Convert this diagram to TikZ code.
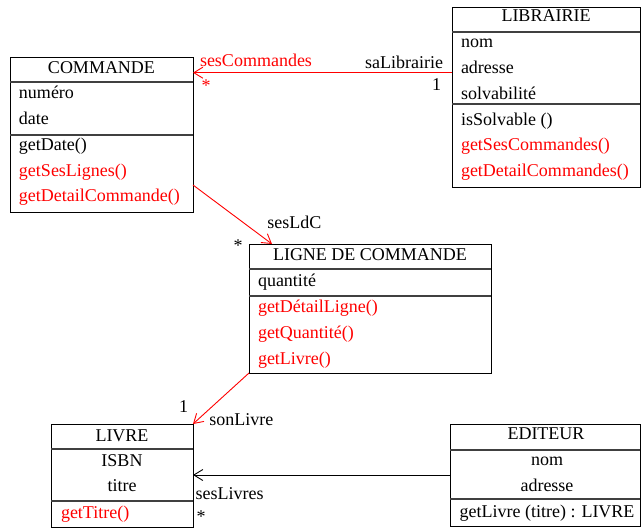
\documentclass[tikz,border=0pt]{standalone}
\usepackage{fontspec}
\setmainfont{Liberation Serif}
\usetikzlibrary{arrows.meta,calc}
\definecolor{umlred}{RGB}{255,0,0}
\begin{document}
\begin{tikzpicture}[x=1pt,y=-1pt,
  every node/.style={font=\fontsize{18}{22}\selectfont, inner sep=0pt, outer sep=0pt},
  cls/.style={draw=black, line width=0.9pt, rectangle, anchor=north west},
  divider/.style={draw=black!75, line width=1.1pt},
  txt/.style={anchor=base west},
  ttl/.style={anchor=base},
  redtxt/.style={text=umlred},
  assoc/.style={line width=0.9pt, -{Straight Barb[length=9pt,width=11pt]}},
  redassoc/.style={assoc, draw=umlred}]
\useasboundingbox (0,0) rectangle (641,528);

% COMMANDE
\node[cls, minimum width=183, minimum height=155] (commande) at (10,57) {};
\draw[divider] (10,82) -- (193,82);
\draw[divider] (10,135) -- (193,135);
\node[ttl] (commandeT) at (101.5,73.3) {COMMANDE};
\node[txt] (c1) at (19,98.3) {numéro};
\node[txt] (c2) at (19,124) {date};
\node[txt] (c3) at (19,150) {getDate()};
\node[txt, redtxt] (c4) at (19,176) {getSesLignes()};
\node[txt, redtxt] (c5) at (19,201.7) {getDetailCommande()};

% LIBRAIRIE
\node[cls, minimum width=188, minimum height=180] (librairie) at (452,7) {};
\draw[divider] (452,32) -- (640,32);
\draw[divider] (452,104) -- (640,104);
\node[ttl] (librairieT) at (546,21.7) {LIBRAIRIE};
\node[txt] (l1) at (461,47.7) {nom};
\node[txt] (l2) at (461,73.3) {adresse};
\node[txt] (l3) at (461,99.3) {solvabilité};
\node[txt] (l4) at (461,125) {isSolvable ()};
\node[txt, redtxt] (l5) at (461,150.7) {getSesCommandes()};
\node[txt, redtxt] (l6) at (461,176.7) {getDetailCommandes()};

% LIGNE DE COMMANDE
\node[cls, minimum width=242, minimum height=129] (ligne) at (249,244) {};
\draw[divider] (249,269) -- (491,269);
\draw[divider] (249,296) -- (491,296);
\node[ttl] (ligneT) at (370,260) {LIGNE DE COMMANDE};
\node[txt] (g1) at (258,286) {quantité};
\node[txt, redtxt] (g2) at (258,312.3) {getDétailLigne()};
\node[txt, redtxt] (g3) at (258,338.3) {getQuantité()};
\node[txt, redtxt] (g4) at (258,364) {getLivre()};

% LIVRE
\node[cls, minimum width=142, minimum height=103] (livre) at (51,424) {};
\draw[divider] (51,449) -- (193,449);
\draw[divider] (51,501) -- (193,501);
\node[ttl] (livreT) at (122,441) {LIVRE};
\node[ttl] (v1) at (122,466) {ISBN};
\node[ttl] (v2) at (122,491.7) {titre};
\node[txt, redtxt] (v3) at (61,518.3) {getTitre()};

% EDITEUR
\node[cls, minimum width=190, minimum height=102] (editeur) at (450,424) {};
\draw[divider] (450,450) -- (640,450);
\draw[divider] (450,499) -- (640,499);
\node[ttl] (editeurT) at (546,439.3) {EDITEUR};
\node[ttl] (e1) at (547,465.7) {nom};
\node[ttl] (e2) at (547,491.7) {adresse};
\node[ttl] (e3) at (547,517.3) {getLivre (titre) : LIVRE};

% Associations
\draw[redassoc] ($(librairie.north west)+(0,65.7)$) -- ($(commande.north east)+(0,15.7)$);
\node[txt, redtxt] (lbl1) at (200,66.7) {sesCommandes};
\node[txt, redtxt] (lbl2) at (201.5,91) {*};
\node[anchor=base east] (lbl3) at (443,68.3) {saLibrairie};
\node[anchor=base east] (lbl4) at (441,90.7) {1};

\draw[redassoc] ($(commande.north east)+(0,128)$) -- ($(ligne.north west)+(23,0)$);
\node[txt] (lbl5) at (267.3,228.3) {sesLdC};
\node[txt] (lbl6) at (233.5,251) {*};

\draw[redassoc] (ligne.south west) -- (livre.north east);
\node[anchor=base east] (lbl7) at (188,412.7) {1};
\node[txt] (lbl8) at (209.3,425) {sonLivre};

\draw[assoc] ($(editeur.north west)+(0,51)$) -- ($(livre.north east)+(0,51)$);
\node[txt] (lbl9) at (195.7,499) {sesLivres};
\node[txt] (lbl10) at (196.5,522) {*};
\end{tikzpicture}
\end{document}
